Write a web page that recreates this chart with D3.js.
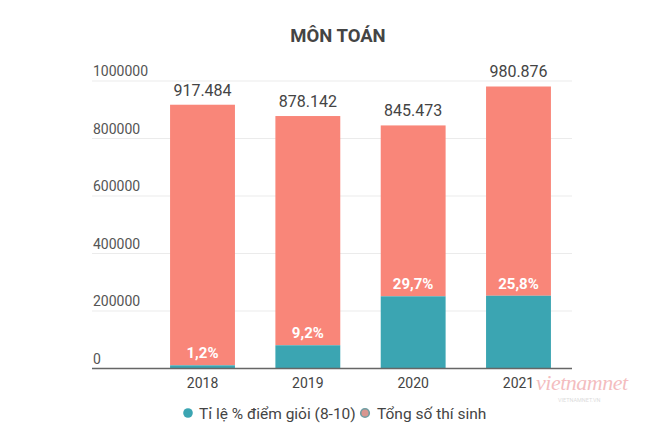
<!DOCTYPE html>
<html>
<head>
<meta charset="utf-8">
<script src="https://cdn.jsdelivr.net/npm/d3@7"></script>
<style>
  body { margin: 0; background: #fff; font-family: Roboto, "Noto Sans", sans-serif; }
</style>
</head>
<body>
<svg id="chart" width="654" height="436"></svg>
<script>
const years = ["2018", "2019", "2020", "2021"];
const totals = [917484, 878142, 845473, 980876];
const totalLabels = ["917.484", "878.142", "845.473", "980.876"];
const goodRates = [1.2, 9.2, 29.7, 25.8];
const rateLabels = ["1,2%", "9,2%", "29,7%", "25,8%"];
const yTicks = [0, 200000, 400000, 600000, 800000, 1000000];
const legendItems = ["Tỉ lệ % điểm giỏi (8-10)", "Tổng số thí sinh"];

const TEAL = "#3ba5b2";
const SALMON = "#f98679";

const rows = years.map((year, i) => ({
  year,
  total: totals[i],
  good: totals[i] * goodRates[i] / 100,
  totalLabel: totalLabels[i],
  rateLabel: rateLabels[i]
}));

const svg = d3.select("#chart");
const x = d3.scaleBand().domain(years).range([149, 572]).paddingInner(0.384).paddingOuter(0.2);
const y = d3.scaleLinear().domain([0, 1000000]).range([368.5, 81]);
const gridLeft = 92;
const gridRight = 572;

svg.append("text")
  .attr("x", 338).attr("y", 42)
  .attr("text-anchor", "middle")
  .attr("font-size", 18.5).attr("font-weight", 700)
  .attr("fill", "#444")
  .text("MÔN TOÁN");

// grid + y labels
yTicks.forEach((t) => {
  if (t > 0) {
    svg.append("line")
      .attr("x1", gridLeft).attr("x2", gridRight)
      .attr("y1", y(t)).attr("y2", y(t))
      .attr("stroke", "#ebebeb").attr("stroke-width", 1);
  }
  svg.append("text")
    .attr("x", gridLeft + 1).attr("y", y(t) - 5)
    .attr("font-size", 14).attr("fill", "#555")
    .text(t);
});

const bars = svg.append("g").selectAll("g").data(rows).enter().append("g");

bars.append("rect")
  .attr("x", (d) => x(d.year)).attr("width", x.bandwidth())
  .attr("y", (d) => y(d.total)).attr("height", (d) => y(d.good) - y(d.total))
  .attr("fill", SALMON);

bars.append("rect")
  .attr("x", (d) => x(d.year)).attr("width", x.bandwidth())
  .attr("y", (d) => y(d.good)).attr("height", (d) => y(0) - y(d.good))
  .attr("fill", TEAL);

bars.append("text")
  .attr("x", (d) => x(d.year) + x.bandwidth() / 2)
  .attr("y", (d) => y(d.total) - 9)
  .attr("text-anchor", "middle")
  .attr("font-size", 16).attr("fill", "#444")
  .text((d) => d.totalLabel);

bars.append("text")
  .attr("x", (d) => x(d.year) + x.bandwidth() / 2)
  .attr("y", (d) => y(d.good) - 7)
  .attr("text-anchor", "middle")
  .attr("font-size", 15).attr("font-weight", 700).attr("fill", "#fff")
  .text((d) => d.rateLabel);

// baseline
svg.append("line")
  .attr("x1", gridLeft).attr("x2", gridRight)
  .attr("y1", y(0)).attr("y2", y(0))
  .attr("stroke", "#666").attr("stroke-width", 1.5);

const xAxis = svg.append("g").attr("transform", `translate(0,${y(0)})`)
  .call(d3.axisBottom(x).tickSize(0).tickPadding(10));
xAxis.select(".domain").remove();
xAxis.selectAll("text").attr("font-size", 14).attr("fill", "#444").attr("font-family", "Roboto, sans-serif");

// watermark
const wm = svg.append("g").attr("opacity", 0.35);
wm.append("text").attr("x", 536).attr("y", 390)
  .attr("font-size", 22).attr("font-family", "'Liberation Serif', serif")
  .attr("font-style", "italic").attr("fill", "#e0454a").attr("letter-spacing", -0.5)
  .text("vietnamnet");
wm.append("text").attr("x", 558).attr("y", 402)
  .attr("font-size", 5.5).attr("fill", "#999")
  .text("VIETNAMNET.VN");

// legend
const legend = svg.append("g");
legend.append("circle").attr("cx", 188).attr("cy", 413).attr("r", 4.8).attr("fill", TEAL);
legend.append("text").attr("x", 199).attr("y", 418.5)
  .attr("font-size", 15.5).attr("fill", "#444").text(legendItems[0]);
legend.append("circle").attr("cx", 365).attr("cy", 413).attr("r", 4.3)
  .attr("fill", "#d89690").attr("stroke", "#6e9ea3").attr("stroke-width", 1.6);
legend.append("text").attr("x", 377).attr("y", 418.5)
  .attr("font-size", 15.5).attr("fill", "#444").text(legendItems[1]);
</script>
</body>
</html>
